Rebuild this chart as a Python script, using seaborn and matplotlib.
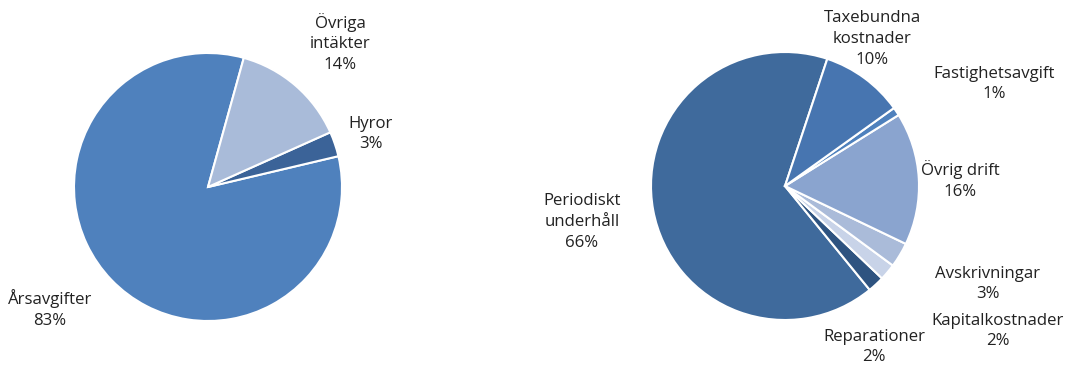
import matplotlib
matplotlib.use("Agg")
import matplotlib.pyplot as plt
import seaborn as sns

sns.set_theme(style="white")
plt.rcParams['font.family'] = ['Open Sans', 'DejaVu Sans']

# Left pie: income
inc_labels = ["Årsavgifter", "Hyror", "Övriga\nintäkter"]
inc_values = [83, 3, 14]
inc_colors = ["#4F81BD", "#3B6398", "#A9BBD9"]

# Right pie: costs
cost_labels = ["Periodiskt\nunderhåll", "Reparationer", "Kapitalkostnader",
               "Avskrivningar", "Övrig drift", "Fastighetsavgift",
               "Taxebundna\nkostnader"]
cost_values = [66, 2, 2, 3, 16, 1, 10]
cost_colors = ["#3F6A9C", "#2E5380", "#C8D3E8", "#AABBD9", "#8AA4CF",
               "#4F81BD", "#4775B0"]

W, H = 1069, 366
fig = plt.figure(figsize=(W / 100, H / 100), dpi=100)

def make_ax(cx, cy, r):
    ax = fig.add_axes([(cx - r) / W, (H - cy - r) / H, 2 * r / W, 2 * r / H])
    ax.set_xlim(-1, 1)
    ax.set_ylim(-1, 1)
    ax.axis("off")
    return ax

def place(ax, cx, cy, r, px, py, text):
    ax.text((px - cx) / r, (cy - py) / r, text, ha="center", va="center",
            fontsize=12.1, color="#222222", linespacing=1.38, clip_on=False)

# left
cxL, cyL, rL = 208, 187, 134
axL = make_ax(cxL, cyL, rL)
axL.pie(inc_values, colors=inc_colors, startangle=74.5, radius=1,
        wedgeprops=dict(edgecolor="white", linewidth=1.5))
axL.set_xlim(-1, 1); axL.set_ylim(-1, 1)
left_pos = [(50, 309), (371, 134), (340, 43)]
for (px, py), lab, v in zip(left_pos, inc_labels, inc_values):
    place(axL, cxL, cyL, rL, px, py, f"{lab}\n{v}%")

# right
cxR, cyR, rR = 785, 186, 134
axR = make_ax(cxR, cyR, rR)
axR.pie(cost_values, colors=cost_colors, startangle=71.6, radius=1,
        wedgeprops=dict(edgecolor="white", linewidth=1.5))
axR.set_xlim(-1, 1); axR.set_ylim(-1, 1)
right_pos = [(582, 222), (874, 347), (998, 331), (988, 284), (960, 180),
             (994, 84), (872, 39)]
for (px, py), lab, v in zip(right_pos, cost_labels, cost_values):
    place(axR, cxR, cyR, rR, px, py, f"{lab}\n{v}%")

fig.savefig("out.png", dpi=100, facecolor="white")
